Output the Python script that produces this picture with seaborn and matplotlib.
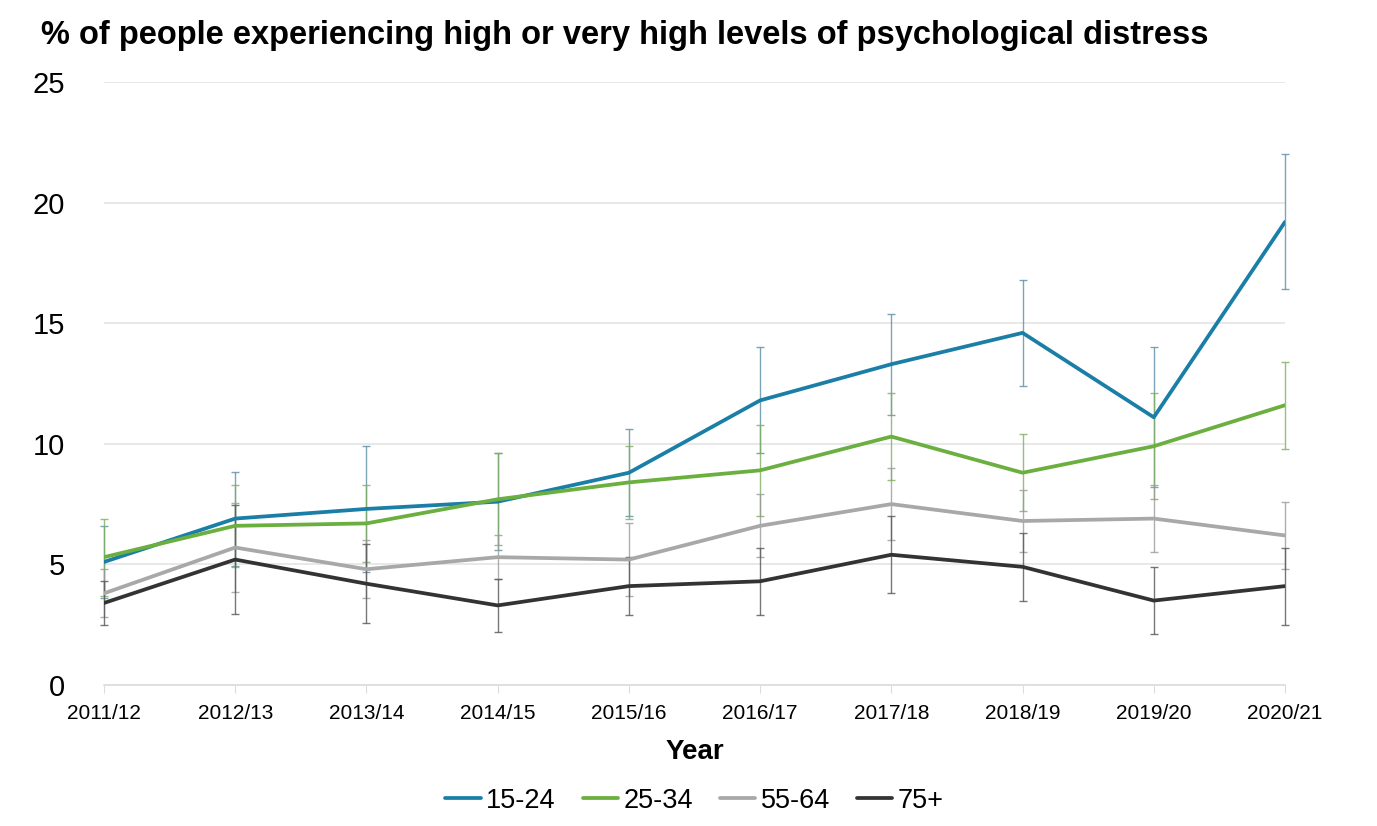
import matplotlib.pyplot as plt
import pandas as pd
import numpy as np
import seaborn as sns

# data
years = ['2011/12', '2012/13', '2013/14', '2014/15', '2015/16',
         '2016/17', '2017/18', '2018/19', '2019/20', '2020/21']
groups = ['15-24', '25-34', '55-64', '75+']

age_15_24 = [5.1, 6.9, 7.3, 7.6, 8.8, 11.8, 13.3, 14.6, 11.1, 19.2]
age_25_34 = [5.3, 6.6, 6.7, 7.7, 8.4, 8.9, 10.3, 8.8, 9.9, 11.6]
age_55_64 = [3.8, 5.7, 4.8, 5.3, 5.2, 6.6, 7.5, 6.8, 6.9, 6.2]
age_75_plus = [3.4, 5.2, 4.2, 3.3, 4.1, 4.3, 5.4, 4.9, 3.5, 4.1]

# half-width of the confidence intervals
err_15_24 = [1.5, 1.95, 2.6, 2.0, 1.8, 2.2, 2.1, 2.2, 2.9, 2.8]
err_25_34 = [1.6, 1.7, 1.6, 1.9, 1.5, 1.9, 1.8, 1.6, 2.2, 1.8]
err_55_64 = [1.0, 1.85, 1.2, 0.9, 1.5, 1.3, 1.5, 1.3, 1.4, 1.4]
err_75_plus = [0.9, 2.25, 1.65, 1.1, 1.2, 1.4, 1.6, 1.4, 1.4, 1.6]

values = [age_15_24, age_25_34, age_55_64, age_75_plus]
errors = [err_15_24, err_25_34, err_55_64, err_75_plus]
colors = ['#1a7ea6', '#6aaf3f', '#a8a8a8', '#333333']
err_colors = ['#5a8fa3', '#7fae5f', '#9a9a9a', '#555555']

df = pd.DataFrame({
    'Year': years * len(groups),
    'group': np.repeat(groups, len(years)),
    'pct': np.concatenate(values),
})

sns.set_style('white')
plt.rcParams['font.family'] = ['Liberation Sans', 'DejaVu Sans']
plt.rcParams['text.color'] = 'black'
plt.rcParams['xtick.color'] = 'black'
plt.rcParams['ytick.color'] = 'black'
plt.rcParams['axes.labelcolor'] = 'black'

fig = plt.figure(figsize=(13.77, 8.26), dpi=100)
ax = fig.add_axes([0.0755, 0.1707, 0.8577, 0.73])

xs = np.arange(len(years))
for vals, errs, ec in zip(values, errors, err_colors):
    eb = ax.errorbar(xs, vals, yerr=errs, fmt='none', ecolor=ec, elinewidth=1.0,
                     capsize=3, capthick=1.0, alpha=0.8, zorder=2)
    for art in eb.lines[1] + eb.lines[2]:
        art.set_clip_on(False)

sns.lineplot(data=df, x='Year', y='pct', hue='group', hue_order=groups,
             palette=colors, linewidth=2.7, sort=False, ax=ax, zorder=3)

ax.set_xlim(0, len(years) - 1)
ax.set_ylim(0, 25)
ax.set_yticks([0, 5, 10, 15, 20, 25])
ax.set_xticks(xs)
ax.set_xticklabels(years)
ax.yaxis.grid(True, color='#e4e4e4', linewidth=1.2)
ax.set_axisbelow(True)
for s in ['top', 'right', 'left']:
    ax.spines[s].set_visible(False)
ax.spines['bottom'].set_color('#dcdcdc')
ax.spines['bottom'].set_linewidth(1.2)
ax.tick_params(axis='y', length=0, labelsize=21, pad=28)
ax.tick_params(axis='x', length=6, color='#dcdcdc', labelsize=15, pad=8, bottom=True)

ax.set_xlabel('Year', fontsize=20, fontweight='bold', labelpad=11)
ax.set_ylabel('')
fig.text(0.03, 0.957, '% of people experiencing high or very high levels of psychological distress',
         fontsize=23.5, fontweight='bold', ha='left', va='center')

handles, labels = ax.get_legend_handles_labels()
ax.legend(handles, labels, loc='upper center', bbox_to_anchor=(0.5, -0.13), ncol=4,
          frameon=False, fontsize=19.5, handlelength=1.3, handletextpad=0.2,
          columnspacing=1.0)

fig.savefig('out.png', dpi=100)
